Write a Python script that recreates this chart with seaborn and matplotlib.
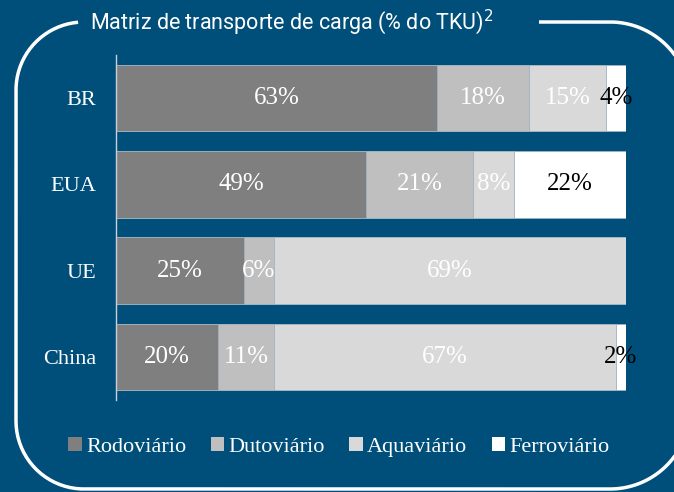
import numpy as np
import pandas as pd
import matplotlib.pyplot as plt
import seaborn as sns
from matplotlib.patches import Rectangle

# Data
countries = ['BR', 'EUA', 'UE', 'China']
modes = ['Rodoviário', 'Dutoviário', 'Aquaviário', 'Ferroviário']
rodoviario = [63, 49, 25, 20]
dutoviario = [18, 21, 6, 11]
aquaviario = [15, 8, 69, 67]
ferroviario = [4, 22, 0, 2]
title = 'Matriz de transporte de carga (% do TKU)$^2$'

colors = ['#7f7f7f', '#bfbfbf', '#d9d9d9', '#ffffff']
label_colors = ['white', 'white', 'white', 'black']
bg = '#004f7a'

sns.set_theme(style='white')
plt.rcParams['font.family'] = ['Liberation Serif', 'DejaVu Serif']

df = pd.DataFrame({'País': countries, 'Rodoviário': rodoviario, 'Dutoviário': dutoviario,
                   'Aquaviário': aquaviario, 'Ferroviário': ferroviario})
cum = df[modes].cumsum(axis=1)

fig = plt.figure(figsize=(6.74, 4.92), dpi=100)
fig.patch.set_facecolor(bg)

# background axes in pixel units for the rounded frame
bga = fig.add_axes([0, 0, 1, 1], zorder=-1)
bga.set_xlim(0, 674)
bga.set_ylim(492, 0)
bga.axis('off')


def arc(cx, cy, r, a0, a1):
    t = np.radians(np.linspace(a0, a1, 40))
    return cx + r * np.cos(t), cy + r * np.sin(t)


L, R, T, B = 16, 690, 22, 489
rl, rr = 68, 80
pieces = [arc(R - rr, T + rr, rr, -90, 0), arc(R - rr, B - rr, rr, 0, 90),
          arc(L + rl, B - rl, rl, 90, 180), arc(L + rl, T + rl, rl, 180, 265)]
fx = np.concatenate([[539]] + [p[0] for p in pieces])
fy = np.concatenate([[T]] + [p[1] for p in pieces])
bga.plot(fx, fy, color='white', lw=2.5, solid_capstyle='butt')
bga.text(90, 22, title, color='white', fontsize=15.5,
         family=['Roboto', 'DejaVu Sans'], va='center', ha='left')

ax = fig.add_axes([116 / 674, 1 - 400 / 492, 510 / 674, 345 / 492])
ax.set_facecolor('none')

# stacked bars by overlaying cumulative sums, longest first
for mode, col in reversed(list(zip(modes, colors))):
    sns.barplot(x=cum[mode], y=df['País'], orient='h', color=col, width=0.77,
                edgecolor='#9fb0c2', linewidth=0.6, saturation=1, ax=ax)

for i in range(len(countries)):
    left = 0
    for mode, lc in zip(modes, label_colors):
        v = df[mode][i]
        if v > 0:
            ax.text(left + v / 2, i, f'{v}%', ha='center', va='center',
                    color=lc, fontsize=18)
        left += v

ax.set_xlim(0, 100)
ax.set_ylim(3.5, -0.5)
ax.set_xlabel('')
ax.set_ylabel('')
ax.set_xticks([])
ax.tick_params(axis='y', length=0, pad=14, labelsize=16, labelcolor='white')
for s in ['top', 'right', 'bottom']:
    ax.spines[s].set_visible(False)
ax.spines['left'].set_color('#c8d0d8')
ax.spines['left'].set_linewidth(1)

handles = [Rectangle((0, 0), 1, 1, fc=c, ec='none') for c in colors]
fig.legend(handles, modes, loc='center', bbox_to_anchor=(339 / 674, 1 - 447 / 492),
           ncol=4, frameon=False, fontsize=16, labelcolor='white',
           handlelength=0.6, handleheight=0.6, handletextpad=0.2, columnspacing=1.1)

fig.savefig('out.png', dpi=100, facecolor=bg)
